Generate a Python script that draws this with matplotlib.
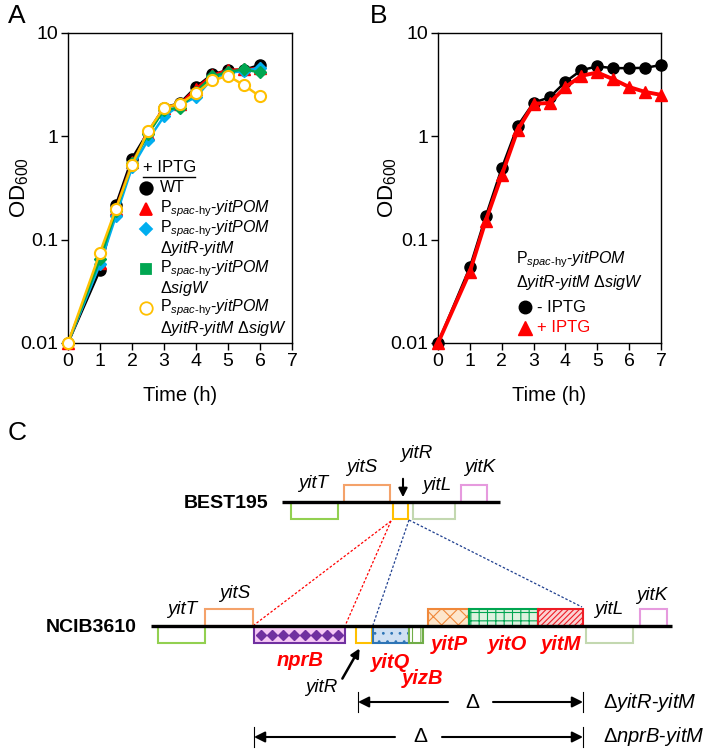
import numpy as np
import matplotlib.pyplot as plt
from matplotlib.patches import Rectangle
from matplotlib.ticker import NullLocator

plt.rcParams['font.family'] = 'Liberation Sans'
plt.rcParams['mathtext.fontset'] = 'custom'
plt.rcParams['mathtext.rm'] = 'Liberation Sans'
plt.rcParams['mathtext.it'] = 'Liberation Sans:italic'
plt.rcParams['mathtext.bf'] = 'Liberation Sans:bold'
plt.rcParams['hatch.linewidth'] = 0.8

# panel A, all strains + IPTG
time_a = [0, 1, 1.5, 2, 2.5, 3, 3.5, 4, 4.5, 5, 5.5, 6]
od_wt = [0.01, 0.051, 0.218, 0.61, 1.1, 1.9, 2.1, 3.0, 3.98, 4.37, 4.4, 4.92]
od_pom = [0.01, 0.06, 0.2, 0.56, 1.05, 1.9, 2.05, 2.9, 3.9, 4.4, 4.45, 4.6]
od_pom_dyitr = [0.01, 0.058, 0.17, 0.5, 0.92, 1.56, 2.0, 2.4, 3.6, 4.1, 4.3, 4.6]
od_pom_dsigw = [0.01, 0.065, 0.19, 0.55, 1.05, 1.8, 1.9, 2.7, 3.8, 4.2, 4.45, 4.15]
od_pom_dyitr_dsigw = [0.01, 0.075, 0.2, 0.53, 1.12, 1.9, 2.07, 2.61, 3.47, 3.85, 3.13, 2.43]

# panel B, triple mutant -/+ IPTG
time_b = [0, 1, 1.5, 2, 2.5, 3, 3.5, 4, 4.5, 5, 5.5, 6, 6.5, 7]
od_minus = [0.01, 0.054, 0.168, 0.49, 1.26, 2.12, 2.38, 3.37, 4.37, 4.75, 4.57, 4.57, 4.6, 4.9]
od_plus = [0.01, 0.049, 0.153, 0.42, 1.15, 2.07, 2.1, 3.0, 3.85, 4.15, 3.57, 3.0, 2.69, 2.52]

x_ticks = [0, 1, 2, 3, 4, 5, 6, 7]
y_ticks = [0.01, 0.1, 1, 10]
y_ticklabels = ['0.01', '0.1', '1', '10']

# panel C, gene maps (map units along the chromosome line)
best_genes = ['yitT', 'yitS', 'yitR', 'yitL', 'yitK']
best_start = [291, 344, 393, 413, 461]
best_end = [338, 390, 408, 455, 487]
best_strand = [-1, 1, -1, -1, 1]

ncib_genes = ['yitT', 'yitS', 'nprB', 'yitR', 'yitQ', 'yizB', 'yitP', 'yitO', 'yitM', 'yitL', 'yitK']
ncib_start = [158, 205, 254, 356, 373, 409, 428, 469, 538, 586, 640]
ncib_end = [205, 253, 345, 372, 409, 423, 469, 538, 583, 633, 667]
ncib_strand = [-1, 1, -1, -1, -1, -1, 1, 1, 1, -1, 1]

gene_style = {
    'yitT': dict(fc='white', ec='#92d050', hatch=None),
    'yitS': dict(fc='white', ec='#f4a26a', hatch=None),
    'yitR': dict(fc='white', ec='#ffc000', hatch=None),
    'yitL': dict(fc='white', ec='#c3d8b0', hatch=None),
    'yitK': dict(fc='white', ec='#e69ade', hatch=None),
    'nprB': dict(fc='#f5c8f5', ec='#7030a0', hatch=None),
    'yitQ': dict(fc='#cfe0f3', ec='#2e75b6', hatch='..'),
    'yizB': dict(fc='white', ec='#70ad47', hatch='||'),
    'yitP': dict(fc='#fde6cc', ec='#f0883a', hatch='xx'),
    'yitO': dict(fc='#dff2df', ec='#00a550', hatch='++'),
    'yitM': dict(fc='#fbd3d3', ec='#ee1c25', hatch='//////'),
}

fig = plt.figure(figsize=(7.09, 7.49), dpi=100)

axA = fig.add_axes([68 / 709, 1 - 343 / 749, 224 / 709, 310 / 749])
axB = fig.add_axes([438 / 709, 1 - 343 / 749, 223 / 709, 310 / 749])

c_red = '#ff0000'
c_blue = '#00aeef'
c_green = '#00a651'
c_gold = '#ffc000'

lw = 1.8
axA.plot(time_a, od_wt, '-o', color='k', lw=lw, ms=8, clip_on=False, zorder=3)
axA.plot(time_a, od_pom, '-^', color=c_red, lw=lw, ms=8, clip_on=False, zorder=3)
axA.plot(time_a, od_pom_dyitr, '-D', color=c_blue, lw=lw, ms=6.5, clip_on=False, zorder=3)
axA.plot(time_a, od_pom_dsigw, '-D', color=c_green, lw=lw, ms=6.5, clip_on=False, zorder=3)
axA.plot(time_a, od_pom_dyitr_dsigw, '-o', color=c_gold, lw=lw, ms=8, mfc='white',
         mec=c_gold, mew=1.5, clip_on=False, zorder=4)

axB.plot(time_b, od_minus, '-o', color='k', lw=1.8, ms=8, clip_on=False, zorder=3)
axB.plot(time_b, od_plus, '-^', color=c_red, lw=2.8, ms=8.5, clip_on=False, zorder=4)

for ax, lx in [(axA, -0.165), (axB, -0.175)]:
    ax.set_yscale('log')
    ax.set_xlim(0, 7)
    ax.set_ylim(0.01, 10)
    ax.set_xticks(x_ticks)
    ax.set_yticks(y_ticks)
    ax.set_yticklabels(y_ticklabels)
    ax.yaxis.set_minor_locator(NullLocator())
    ax.tick_params(labelsize=14, length=5, width=1, pad=2)
    for s in ax.spines.values():
        s.set_linewidth(1)
    ax.set_xlabel('Time (h)', fontsize=14.5)
    ax.xaxis.set_label_coords(0.5, -0.14)
    ax.set_ylabel(r'$\mathrm{OD}_{600}$', fontsize=16)
    ax.yaxis.set_label_coords(lx, 0.5)

# overlay in figure pixels for legends and the gene diagram
ov = fig.add_axes([0, 0, 1, 1])
ov.set_xlim(0, 709)
ov.set_ylim(749, 0)
ov.axis('off')
ov.patch.set_alpha(0)

fig.text(8 / 709, 1 - 16 / 749, 'A', fontsize=19, va='center', ha='left')
fig.text(370 / 709, 1 - 16 / 749, 'B', fontsize=19, va='center', ha='left')
fig.text(8 / 709, 1 - 433 / 749, 'C', fontsize=19, va='center', ha='left')

pom = r'$\mathrm{P}_{\mathit{spac}\mathrm{‐hy}}\mathit{‐yitPOM}$'
fs_leg = 11.5

# legend A
ov.text(143, 168, '+ IPTG', fontsize=fs_leg + 0.5, va='center')
ov.plot([143, 195], [177, 177], color='k', lw=1)
leg_rows = [
    (188, 'o', 'k', 'k', 'WT', None),
    (209, '^', c_red, c_red, pom, None),
    (229, 'D', c_blue, c_blue, pom, r'$\mathrm{Δ}\mathit{yitR‐yitM}$'),
    (269, 's', c_green, c_green, pom, r'$\mathrm{Δ}\mathit{sigW}$'),
    (308, 'o', 'white', c_gold, pom, r'$\mathrm{Δ}\mathit{yitR‐yitM}\ \mathrm{Δ}\mathit{sigW}$'),
]
for y, m, fc, ec, t1, t2 in leg_rows:
    ms = 6.5 if m in 'Ds' else 9
    ov.plot([146], [y], marker=m, ms=ms, mfc=fc, mec=ec, mew=1.3, ls='none')
    ov.text(160, y, t1, fontsize=fs_leg, va='center')
    if t2:
        ov.text(160, y + 20, t2, fontsize=fs_leg, va='center')

# legend B
ov.text(516, 260, pom, fontsize=fs_leg, va='center')
ov.text(516, 282, r'$\mathrm{Δ}\mathit{yitR‐yitM}\ \mathrm{Δ}\mathit{sigW}$', fontsize=fs_leg, va='center')
ov.plot([525], [307], 'o', color='k', ms=9)
ov.text(537, 307, '- IPTG', fontsize=fs_leg + 0.5, va='center')
ov.plot([525], [328], '^', color=c_red, ms=9.5)
ov.text(537, 328, '+ IPTG', fontsize=fs_leg + 0.5, va='center', color=c_red)

# gene maps
box_h = 17


def draw_map(y0, x0, x1, names, starts, ends, strands, label):
    for n, a, b, s in zip(names, starts, ends, strands):
        st = gene_style[n]
        yb = y0 if s < 0 else y0 - box_h
        r = Rectangle((a, yb), b - a, box_h, facecolor=st['fc'], edgecolor=st['ec'],
                      lw=1.5, hatch=st['hatch'], zorder=2)
        ov.add_patch(r)
        if n == 'nprB':
            xs = np.linspace(a + 7, b - 7, 8)
            ov.plot(xs, [y0 + box_h / 2] * len(xs), ls=':', color=st['ec'], lw=0.8, zorder=3,
                    marker='D', ms=5.5, mfc=st['ec'], mec=st['ec'])
    ov.plot([x0, x1], [y0, y0], color='k', lw=2.4, zorder=4, solid_capstyle='butt')
    ov.text(x0 - 14, y0 + 1, label, fontsize=14, fontweight='bold', ha='right', va='center')


draw_map(502, 282, 500, best_genes, best_start, best_end, best_strand, 'BEST195')
draw_map(626, 151, 672, ncib_genes, ncib_start, ncib_end, ncib_strand, 'NCIB3610')

fs_g = 13.5
# BEST195 labels
for t, x, y in [('yitT', 313, 484), ('yitS', 362, 467), ('yitR', 416, 453),
                ('yitL', 437, 485), ('yitK', 480, 467)]:
    ov.text(x, y, t, fontsize=fs_g, style='italic', ha='center', va='center')
ov.annotate('', xy=(403, 500), xytext=(403, 476),
            arrowprops=dict(arrowstyle='-|>', color='k', lw=1.5, mutation_scale=13))

# NCIB3610 labels
for t, x, y in [('yitT', 182, 610), ('yitS', 235, 594), ('yitL', 609, 610), ('yitK', 652, 595)]:
    ov.text(x, y, t, fontsize=fs_g, style='italic', ha='center', va='center')
for t, x, y in [('nprB', 300, 660), ('yitQ', 390, 662), ('yizB', 423, 678),
                ('yitP', 449, 645), ('yitO', 507, 645), ('yitM', 561, 645)]:
    ov.text(x, y, t, fontsize=14.5, style='italic', fontweight='bold', color=c_red,
            ha='center', va='center')
ov.text(321, 688, 'yitR', fontsize=fs_g, style='italic', ha='center', va='center')
ov.annotate('', xy=(361, 646), xytext=(341, 681),
            arrowprops=dict(arrowstyle='-|>', color='k', lw=1.8, mutation_scale=13))

# dotted connectors
dot = dict(lw=0.9, ls=(0, (2, 1.5)), zorder=1)
ov.plot([391, 254], [521, 625], color=c_red, **dot)
ov.plot([391, 345], [521, 626], color=c_red, **dot)
ov.plot([409, 373], [520, 625], color='#1f3f8f', **dot)
ov.plot([409, 582], [520, 607], color='#1f3f8f', **dot)

# deletion spans
for y, xl, xr, ax_l, ax_r, xd, lab in [
        (702, 358, 583, 448, 493, 472, r'$\mathrm{Δ}\mathit{yitR‐yitM}$'),
        (737, 254, 583, 395, 442, 420, r'$\mathrm{Δ}\mathit{nprB‐yitM}$')]:
    ov.plot([xl, xl], [y - 10, y + 10], color='k', lw=0.8)
    ov.plot([xr, xr], [y - 10, y + 10], color='k', lw=0.8)
    ov.annotate('', xy=(xl, y), xytext=(ax_l, y),
                arrowprops=dict(arrowstyle='-|>', color='k', lw=1.5, mutation_scale=16,
                                shrinkA=0, shrinkB=0))
    ov.annotate('', xy=(xr, y), xytext=(ax_r, y),
                arrowprops=dict(arrowstyle='-|>', color='k', lw=1.5, mutation_scale=16,
                                shrinkA=0, shrinkB=0))
    ov.text(xd, y, 'Δ', fontsize=15, ha='center', va='center')
    ov.text(603, y, lab, fontsize=14.5, ha='left', va='center')

fig.savefig('out.png', dpi=100)
